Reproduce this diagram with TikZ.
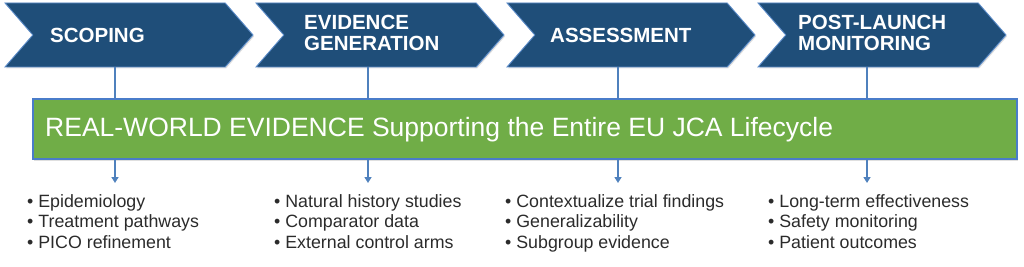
\documentclass[tikz,border=0pt]{standalone}
\usepackage{fontspec}
\setmainfont{Liberation Sans}
\usetikzlibrary{arrows.meta,positioning,shapes.symbols,shadows}
\definecolor{navy}{HTML}{1F4E79}
\definecolor{navyedge}{HTML}{5B8BC8}
\definecolor{leaf}{HTML}{70AD47}
\definecolor{leafedge}{HTML}{4A7CC9}
\definecolor{wire}{HTML}{4F81BD}
\definecolor{ink}{HTML}{2B2B2B}
\tikzset{
phase/.style={signal,signal to=east,signal from=west,signal pointer angle=98,draw=navyedge,fill=navy,line width=.9pt,minimum width=248pt,minimum height=64pt,inner sep=0pt,drop shadow={opacity=.25,shadow xshift=1pt,shadow yshift=-1.5pt}},
phasetext/.style={anchor=west,align=left,text=white,inner sep=0pt,font=\fontsize{20.5}{21}\selectfont\bfseries},
banner/.style={draw=leafedge,fill=leaf,line width=1.2pt,minimum width=984pt,minimum height=60pt,inner sep=0pt,drop shadow={opacity=.25,shadow xshift=1pt,shadow yshift=-1.5pt}},
bannertext/.style={anchor=west,text=white,inner sep=0pt,font=\fontsize{26.5}{28}\selectfont},
link/.style={draw=wire,line width=2pt},
flow/.style={link,-{Triangle[length=6pt,width=7pt]}},
items/.style={anchor=north west,align=left,text=ink,inner sep=0pt,font=\fontsize{17.8}{20.8}\selectfont}}
\begin{document}
\begin{tikzpicture}[x=1pt,y=-1pt]
\useasboundingbox (0,0) rectangle (1024,267);
% phases
\node[phase] (scope) at (129,35) {};
\node[phase] (evid) at (380,35) {};
\node[phase] (assess) at (631,35) {};
\node[phase] (post) at (882,35) {};
\node[phasetext] (scopetxt) at (50,35) {SCOPING};
\node[phasetext] (evidtxt) at (304,33) {EVIDENCE\\GENERATION};
\node[phasetext] (assesstxt) at (550,35) {ASSESSMENT};
\node[phasetext] (posttxt) at (798,33) {POST-LAUNCH\\MONITORING};
% real-world evidence banner
\node[banner] (rwe) at (525,129) {};
\node[bannertext] (rwetxt) at (45,130) {REAL-WORLD EVIDENCE Supporting the Entire EU JCA Lifecycle};
% drops
\coordinate (d1) at (115,183);
\coordinate (d2) at (368,183);
\coordinate (d3) at (618,183);
\coordinate (d4) at (867,183);
\foreach \p/\d in {scope/d1,evid/d2,assess/d3,post/d4}{
  \draw[link] (\d |- \p.south) -- (\d |- rwe.north);
  \draw[flow] (\d |- rwe.south) -- (\d);
}
% uses
\node[items] (uses1) at (27,194) {• Epidemiology\\• Treatment pathways\\• PICO refinement};
\node[items] (uses2) at (274,194) {• Natural history studies\\• Comparator data\\• External control arms};
\node[items] (uses3) at (505,194) {• Contextualize trial findings\\• Generalizability\\• Subgroup evidence};
\node[items] (uses4) at (768,194) {• Long-term effectiveness\\• Safety monitoring\\• Patient outcomes};
\end{tikzpicture}
\end{document}
